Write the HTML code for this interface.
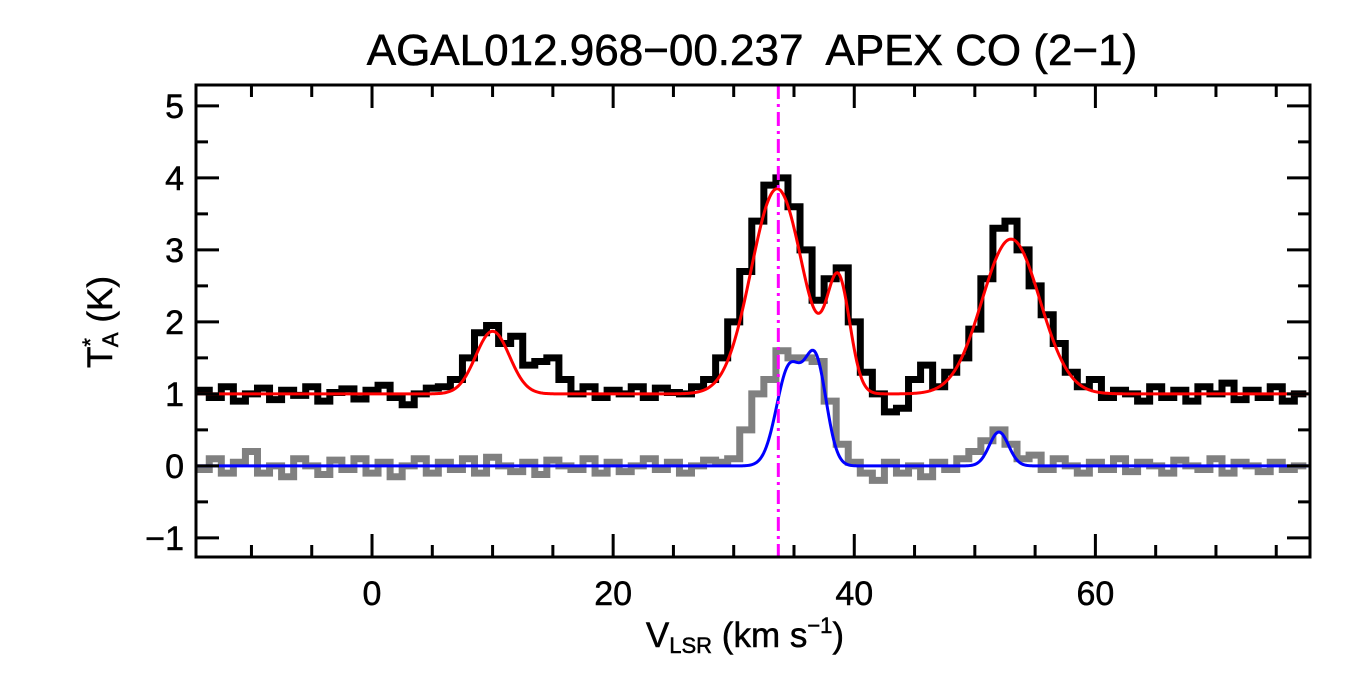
<!DOCTYPE html>
<html><head><meta charset="utf-8"><style>
body{margin:0;background:#fff;width:1350px;height:675px;overflow:hidden}
svg text{font-family:"Liberation Sans",sans-serif;fill:#000}
</style></head><body>
<svg id="chart" width="1350" height="675" viewBox="0 0 1350 675">
<g id="plot"></g>
<text x="752" y="65" font-size="44" text-anchor="middle" stroke="#000" stroke-width="0.6" style="white-space:pre">AGAL012.968−00.237  APEX CO (2−1)</text>
<text x="745" y="647" font-size="35" text-anchor="middle" stroke="#000" stroke-width="0.5">V<tspan font-size="22" dy="6">LSR</tspan><tspan dy="-6"> (km s</tspan><tspan font-size="22" dy="-14">−1</tspan><tspan dy="14">)</tspan></text>
<text transform="translate(112,322) rotate(-90)" font-size="35" text-anchor="middle" stroke="#000" stroke-width="0.5">T<tspan font-size="22" dy="-14">*</tspan><tspan font-size="22" dy="20" dx="-9">A</tspan><tspan dy="-6"> (K)</tspan></text>
</svg>
<script>
const xStart=-14, xStep=1;
const blackVals=[1.05,0.95,1.1,0.9,1.0,1.08,0.92,1.05,0.98,1.1,0.9,1.02,1.07,0.93,1.05,1.12,0.95,0.85,1.0,1.08,1.1,1.2,1.5,1.85,1.95,1.7,1.8,1.4,1.45,1.5,1.2,1.0,1.1,0.95,1.05,1.0,1.1,0.95,1.08,1.02,1.0,1.1,1.2,1.5,2.0,2.7,3.4,3.9,4.0,3.6,3.0,2.3,2.6,2.75,2.0,1.3,1.0,0.75,0.8,1.2,1.4,1.1,1.3,1.5,1.9,2.6,3.3,3.4,3.0,2.5,2.1,1.7,1.3,1.1,1.2,0.95,1.05,1.0,0.9,1.1,0.95,1.05,0.9,1.1,1.0,1.15,0.92,1.05,0.95,1.1,0.9,1.0];
const grayVals=[-0.05,0.1,-0.1,0.05,0.2,-0.1,0.0,-0.15,0.1,0.0,-0.12,0.08,-0.05,0.1,-0.1,0.05,-0.15,0.0,0.1,-0.1,0.05,-0.05,0.1,-0.1,0.12,0.0,-0.08,0.05,-0.12,0.08,0.0,-0.05,0.1,-0.1,0.05,-0.08,0.0,0.1,-0.05,0.05,-0.1,0.0,0.08,0.05,0.1,0.5,1.0,1.2,1.6,1.5,1.5,1.45,0.9,0.3,0.05,-0.1,-0.2,0.05,-0.1,0.0,-0.15,0.05,-0.05,0.1,0.2,0.35,0.5,0.3,0.1,0.15,-0.05,0.1,0.0,-0.1,0.05,-0.05,0.1,-0.08,0.05,0.0,-0.1,0.08,0.0,-0.05,0.1,-0.1,0.05,0.0,-0.08,0.05,-0.05,0.0];
const redBase=1;
const redCenters=[10.0,33.6,38.7,53.0];
const redAmps=[0.87,2.85,1.5,2.15];
const redSigmas=[1.4,2.15,0.95,2.4];
const blueCenters=[34.6,36.8,52.0];
const blueAmps=[1.35,1.42,0.47];
const blueSigmas=[1.05,0.9,0.8];
const vline=33.7;
const xTicks=[0,20,40,60];
const yTicks=[-1,0,1,2,3,4,5];

const L=196,R=1310,T=85,B=557;
const xMin=-14.6,xMax=77.8,yMin=-1.265,yMax=5.29;
const sx=v=>L+(v-xMin)/(xMax-xMin)*(R-L);
const sy=v=>B-(v-yMin)/(yMax-yMin)*(B-T);
const g=document.getElementById('plot');
const NS='http://www.w3.org/2000/svg';
function mk(t,a){const e=document.createElementNS(NS,t);for(const k in a)e.setAttribute(k,a[k]);g.appendChild(e);return e;}
function hist(vals){let d='';vals.forEach((v,i)=>{const x0=sx(xStart+i*xStep-xStep/2),x1=sx(xStart+i*xStep+xStep/2);const xa=Math.max(x0,L),xb=Math.min(x1,R);d+=(i?'L':'M')+xa+','+sy(v)+'L'+xb+','+sy(v);});return d;}
function gauss(base,c,a,s){let d='';for(let v=xMin;v<=xMax;v+=0.1){let y=base;for(let k=0;k<c.length;k++)y+=a[k]*Math.exp(-0.5*((v-c[k])/s[k])**2);d+=(d?'L':'M')+sx(v)+','+sy(y);}return d;}
let e;
e=mk('path',{d:hist(grayVals),fill:'none',stroke:'#808080','stroke-width':7});


e=mk('path',{d:hist(blackVals),fill:'none',stroke:'#000','stroke-width':7});


e=mk('path',{d:gauss(redBase,redCenters,redAmps,redSigmas),fill:'none',stroke:'#f00','stroke-width':3});


e=mk('path',{d:gauss(0,blueCenters,blueAmps,blueSigmas),fill:'none',stroke:'#00f','stroke-width':3});


e=mk('line',{x1:sx(vline),x2:sx(vline),y1:T,y2:B,stroke:'#f0f','stroke-width':3,'stroke-dasharray':'14,5,3,5'});


e=mk('rect',{x:L,y:T,width:R-L,height:B-T,fill:'none',stroke:'#000','stroke-width':3});


let tk='';
for(let v=-10;v<=75;v+=5){const x=sx(v),len=(v%20===0)?23:12;tk+=`M${x},${B}v${-len}M${x},${T}v${len}`;}
for(let v=-1;v<=5;v+=0.5){const y=sy(v),len=Number.isInteger(v)?23:12;tk+=`M${L},${y}h${len}M${R},${y}h${-len}`;}
e=mk('path',{d:tk,stroke:'#000','stroke-width':3,fill:'none'});


xTicks.forEach(v=>{const t=mk('text',{x:sx(v),y:605,'font-size':34,'text-anchor':'middle',stroke:'#000','stroke-width':0.5});t.textContent=v;

});
yTicks.forEach(v=>{const t=mk('text',{x:184,y:sy(v)+12,'font-size':34,'text-anchor':'end',stroke:'#000','stroke-width':0.5});t.textContent=v<0?'−'+(-v):v;

});
</script>
</body></html>
